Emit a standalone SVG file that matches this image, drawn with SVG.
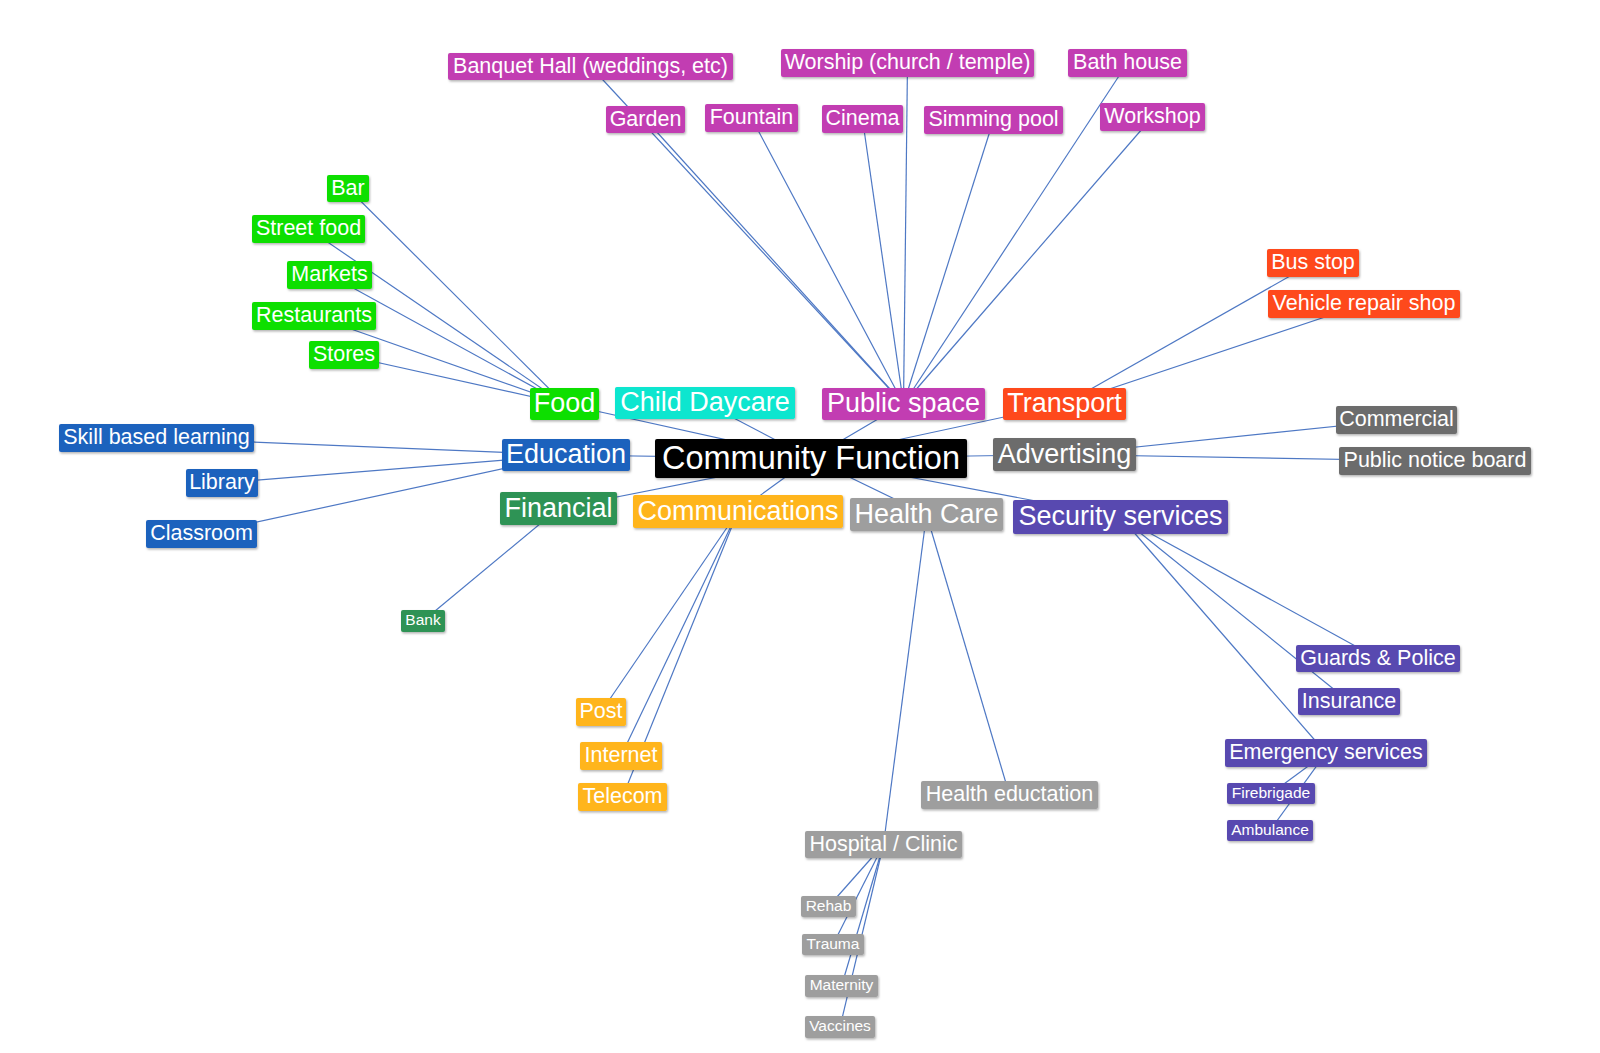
<svg xmlns="http://www.w3.org/2000/svg" width="1600" height="1053" viewBox="0 0 1600 1053">
<defs>
<filter id="sh" x="-10%" y="-20%" width="120%" height="150%">
<feDropShadow dx="1" dy="1.5" stdDeviation="1" flood-color="#000" flood-opacity="0.3"/>
</filter>
<style>
.e{stroke:#4e78c4;stroke-width:1.2;fill:none}
rect{filter:url(#sh)}
text{font-family:"Liberation Sans",Arial,Helvetica,sans-serif;fill:#fff;text-anchor:middle}
.t0{font-size:32.5px}
.t1{font-size:27px}
.t2{font-size:21.5px}
.t3{font-size:15.5px}
.root{fill:#000}
.food{fill:#10df03}
.day{fill:#08e6cf}
.pub{fill:#c23db2}
.tra{fill:#fe4a1a}
.edu{fill:#1f62bd}
.adv{fill:#6c6c6c}
.fin{fill:#2f9354}
.com{fill:#ffb51c}
.hea{fill:#9e9e9e}
.sec{fill:#5949b0}
</style>
</defs>
<rect x="0" y="0" width="1600" height="1053" fill="#fff" style="filter:none"/>
<g id="connectors">
<line class="e" x1="811" y1="458.5" x2="564.5" y2="404"/>
<line class="e" x1="811" y1="458.5" x2="705" y2="403"/>
<line class="e" x1="811" y1="458.5" x2="903.5" y2="404"/>
<line class="e" x1="811" y1="458.5" x2="1064.5" y2="404"/>
<line class="e" x1="811" y1="458.5" x2="566" y2="455"/>
<line class="e" x1="811" y1="458.5" x2="1064.5" y2="454.5"/>
<line class="e" x1="811" y1="458.5" x2="558.5" y2="508.5"/>
<line class="e" x1="811" y1="458.5" x2="738" y2="511.5"/>
<line class="e" x1="811" y1="458.5" x2="926.5" y2="514.5"/>
<line class="e" x1="811" y1="458.5" x2="1120.5" y2="517"/>
<line class="e" x1="564.5" y1="404" x2="348" y2="188.5"/>
<line class="e" x1="564.5" y1="404" x2="308.5" y2="229"/>
<line class="e" x1="564.5" y1="404" x2="329.5" y2="275"/>
<line class="e" x1="564.5" y1="404" x2="314" y2="316"/>
<line class="e" x1="564.5" y1="404" x2="344" y2="355"/>
<line class="e" x1="566" y1="455" x2="156.5" y2="438"/>
<line class="e" x1="566" y1="455" x2="222" y2="483"/>
<line class="e" x1="566" y1="455" x2="201.5" y2="534"/>
<line class="e" x1="558.5" y1="508.5" x2="423" y2="621"/>
<line class="e" x1="903.5" y1="404" x2="590.5" y2="66.5"/>
<line class="e" x1="903.5" y1="404" x2="907.5" y2="63"/>
<line class="e" x1="903.5" y1="404" x2="1127.5" y2="63"/>
<line class="e" x1="903.5" y1="404" x2="645.5" y2="119.5"/>
<line class="e" x1="903.5" y1="404" x2="751.5" y2="118"/>
<line class="e" x1="903.5" y1="404" x2="862.5" y2="119"/>
<line class="e" x1="903.5" y1="404" x2="993.5" y2="120"/>
<line class="e" x1="903.5" y1="404" x2="1152.5" y2="117"/>
<line class="e" x1="1064.5" y1="404" x2="1313" y2="263"/>
<line class="e" x1="1064.5" y1="404" x2="1364" y2="304"/>
<line class="e" x1="1064.5" y1="454.5" x2="1396.5" y2="420"/>
<line class="e" x1="1064.5" y1="454.5" x2="1435" y2="461"/>
<line class="e" x1="738" y1="511.5" x2="601" y2="712"/>
<line class="e" x1="738" y1="511.5" x2="621" y2="756"/>
<line class="e" x1="738" y1="511.5" x2="622.5" y2="797"/>
<line class="e" x1="926.5" y1="514.5" x2="1009.5" y2="795"/>
<line class="e" x1="926.5" y1="514.5" x2="883.5" y2="844.5"/>
<line class="e" x1="883.5" y1="844.5" x2="828.5" y2="906.5"/>
<line class="e" x1="883.5" y1="844.5" x2="833" y2="944.5"/>
<line class="e" x1="883.5" y1="844.5" x2="841.5" y2="986"/>
<line class="e" x1="883.5" y1="844.5" x2="840" y2="1027"/>
<line class="e" x1="1120.5" y1="517" x2="1378" y2="658.5"/>
<line class="e" x1="1120.5" y1="517" x2="1349" y2="701.5"/>
<line class="e" x1="1120.5" y1="517" x2="1326" y2="753"/>
<line class="e" x1="1326" y1="753" x2="1271" y2="793.5"/>
<line class="e" x1="1326" y1="753" x2="1270" y2="830.5"/>
</g>
<g id="n-root"><rect class="root" x="655" y="439" width="312" height="39" rx="2"/><text class="t0" x="811" y="468.5">Community Function</text></g>
<g id="n-food"><rect class="food" x="530" y="388" width="69" height="32" rx="2"/><text class="t1" x="564.5" y="412.2">Food</text></g>
<g id="n-daycare"><rect class="day" x="615" y="387" width="180" height="32" rx="2"/><text class="t1" x="705" y="411.2">Child Daycare</text></g>
<g id="n-public"><rect class="pub" x="822" y="388" width="163" height="32" rx="2"/><text class="t1" x="903.5" y="412.2">Public space</text></g>
<g id="n-transport"><rect class="tra" x="1003" y="388" width="123" height="32" rx="2"/><text class="t1" x="1064.5" y="412.2">Transport</text></g>
<g id="n-education"><rect class="edu" x="502" y="439" width="128" height="32" rx="2"/><text class="t1" x="566" y="463.2">Education</text></g>
<g id="n-advertising"><rect class="adv" x="993" y="438" width="143" height="33" rx="2"/><text class="t1" x="1064.5" y="462.7">Advertising</text></g>
<g id="n-financial"><rect class="fin" x="500" y="492" width="117" height="33" rx="2"/><text class="t1" x="558.5" y="516.7">Financial</text></g>
<g id="n-communications"><rect class="com" x="633" y="495" width="210" height="33" rx="2"/><text class="t1" x="738" y="519.7">Communications</text></g>
<g id="n-healthcare"><rect class="hea" x="850" y="498" width="153" height="33" rx="2"/><text class="t1" x="926.5" y="522.7">Health Care</text></g>
<g id="n-security"><rect class="sec" x="1013" y="500" width="215" height="34" rx="2"/><text class="t1" x="1120.5" y="525.2">Security services</text></g>
<g id="n-bar"><rect class="food" x="327" y="175" width="42" height="27" rx="2"/><text class="t2" x="348" y="194.7">Bar</text></g>
<g id="n-streetfood"><rect class="food" x="252" y="215" width="113" height="28" rx="2"/><text class="t2" x="308.5" y="235.2">Street food</text></g>
<g id="n-markets"><rect class="food" x="287" y="261" width="85" height="28" rx="2"/><text class="t2" x="329.5" y="281.2">Markets</text></g>
<g id="n-restaurants"><rect class="food" x="252" y="302" width="124" height="28" rx="2"/><text class="t2" x="314" y="322.2">Restaurants</text></g>
<g id="n-stores"><rect class="food" x="309" y="341" width="70" height="28" rx="2"/><text class="t2" x="344" y="361.2">Stores</text></g>
<g id="n-skill"><rect class="edu" x="59" y="424" width="195" height="28" rx="2"/><text class="t2" x="156.5" y="444.2">Skill based learning</text></g>
<g id="n-library"><rect class="edu" x="186" y="469" width="72" height="28" rx="2"/><text class="t2" x="222" y="489.2">Library</text></g>
<g id="n-classroom"><rect class="edu" x="146" y="520" width="111" height="28" rx="2"/><text class="t2" x="201.5" y="540.2">Classroom</text></g>
<g id="n-bank"><rect class="fin" x="401" y="610" width="44" height="22" rx="2"/><text class="t3" x="423" y="625.4">Bank</text></g>
<g id="n-banquet"><rect class="pub" x="448" y="53" width="285" height="27" rx="2"/><text class="t2" x="590.5" y="72.7">Banquet Hall (weddings, etc)</text></g>
<g id="n-worship"><rect class="pub" x="781" y="49" width="253" height="28" rx="2"/><text class="t2" x="907.5" y="69.2">Worship (church / temple)</text></g>
<g id="n-bathhouse"><rect class="pub" x="1068" y="49" width="119" height="28" rx="2"/><text class="t2" x="1127.5" y="69.2">Bath house</text></g>
<g id="n-garden"><rect class="pub" x="606" y="106" width="79" height="27" rx="2"/><text class="t2" x="645.5" y="125.7">Garden</text></g>
<g id="n-fountain"><rect class="pub" x="705" y="104" width="93" height="28" rx="2"/><text class="t2" x="751.5" y="124.2">Fountain</text></g>
<g id="n-cinema"><rect class="pub" x="822" y="105" width="81" height="28" rx="2"/><text class="t2" x="862.5" y="125.2">Cinema</text></g>
<g id="n-simming"><rect class="pub" x="924" y="106" width="139" height="28" rx="2"/><text class="t2" x="993.5" y="126.2">Simming pool</text></g>
<g id="n-workshop"><rect class="pub" x="1100" y="103" width="105" height="28" rx="2"/><text class="t2" x="1152.5" y="123.2">Workshop</text></g>
<g id="n-busstop"><rect class="tra" x="1267" y="249" width="92" height="28" rx="2"/><text class="t2" x="1313" y="269.2">Bus stop</text></g>
<g id="n-vehicle"><rect class="tra" x="1268" y="290" width="192" height="28" rx="2"/><text class="t2" x="1364" y="310.2">Vehicle repair shop</text></g>
<g id="n-commercial"><rect class="adv" x="1336" y="406" width="121" height="28" rx="2"/><text class="t2" x="1396.5" y="426.2">Commercial</text></g>
<g id="n-publicnotice"><rect class="adv" x="1339" y="447" width="192" height="28" rx="2"/><text class="t2" x="1435" y="467.2">Public notice board</text></g>
<g id="n-post"><rect class="com" x="576" y="698" width="50" height="28" rx="2"/><text class="t2" x="601" y="718.2">Post</text></g>
<g id="n-internet"><rect class="com" x="580" y="742" width="82" height="28" rx="2"/><text class="t2" x="621" y="762.2">Internet</text></g>
<g id="n-telecom"><rect class="com" x="578" y="783" width="89" height="28" rx="2"/><text class="t2" x="622.5" y="803.2">Telecom</text></g>
<g id="n-healthedu"><rect class="hea" x="921" y="781" width="177" height="28" rx="2"/><text class="t2" x="1009.5" y="801.2">Health eductation</text></g>
<g id="n-hospital"><rect class="hea" x="805" y="831" width="157" height="27" rx="2"/><text class="t2" x="883.5" y="850.7">Hospital / Clinic</text></g>
<g id="n-rehab"><rect class="hea" x="801" y="896" width="55" height="21" rx="2"/><text class="t3" x="828.5" y="910.9">Rehab</text></g>
<g id="n-trauma"><rect class="hea" x="802" y="934" width="62" height="21" rx="2"/><text class="t3" x="833" y="948.9">Trauma</text></g>
<g id="n-maternity"><rect class="hea" x="805" y="975" width="73" height="22" rx="2"/><text class="t3" x="841.5" y="990.4">Maternity</text></g>
<g id="n-vaccines"><rect class="hea" x="805" y="1016" width="70" height="22" rx="2"/><text class="t3" x="840" y="1031.4">Vaccines</text></g>
<g id="n-guards"><rect class="sec" x="1296" y="645" width="164" height="27" rx="2"/><text class="t2" x="1378" y="664.7">Guards &amp; Police</text></g>
<g id="n-insurance"><rect class="sec" x="1298" y="688" width="102" height="27" rx="2"/><text class="t2" x="1349" y="707.7">Insurance</text></g>
<g id="n-emergency"><rect class="sec" x="1225" y="739" width="202" height="28" rx="2"/><text class="t2" x="1326" y="759.2">Emergency services</text></g>
<g id="n-firebrigade"><rect class="sec" x="1227" y="783" width="88" height="21" rx="2"/><text class="t3" x="1271" y="797.9">Firebrigade</text></g>
<g id="n-ambulance"><rect class="sec" x="1227" y="820" width="86" height="21" rx="2"/><text class="t3" x="1270" y="834.9">Ambulance</text></g>
</svg>
